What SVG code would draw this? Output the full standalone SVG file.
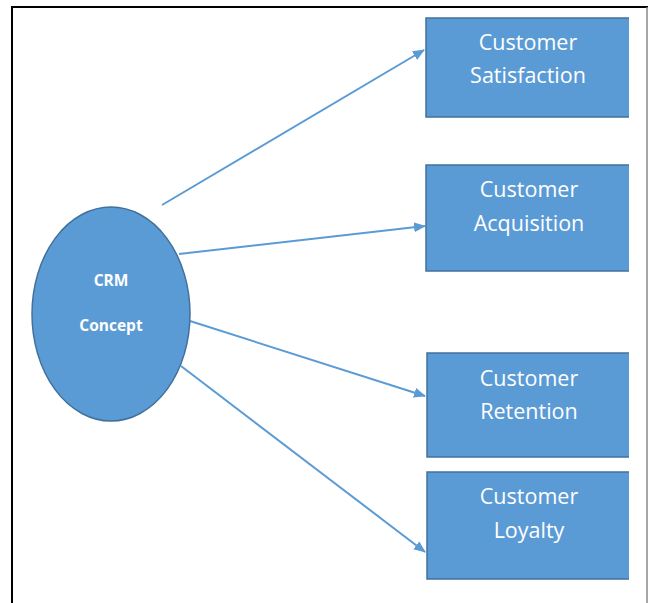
<svg xmlns="http://www.w3.org/2000/svg" width="648" height="603" viewBox="0 0 648 603">
<style>
.box{fill:#5b9bd5;stroke:#41719c;stroke-width:1.5}
.bt{font-family:"Open Sans","Liberation Sans",sans-serif;font-size:21.5px;fill:#ffffff;text-anchor:middle}
.et{font-family:"Open Sans","Liberation Sans",sans-serif;font-size:15.5px;font-weight:bold;fill:#ffffff;text-anchor:middle}
.conn{stroke:#5b9bd5;stroke-width:2;fill:none;marker-end:url(#arr)}
</style>
<defs>
<marker id="arr" markerWidth="12" markerHeight="10" refX="11" refY="5" orient="auto" markerUnits="userSpaceOnUse">
<path d="M0,0 L12,5 L0,10 z" fill="#5b9bd5"/>
</marker>
</defs>
<rect width="648" height="603" fill="#ffffff"/>
<path d="M12,603 V7 H648" fill="none" stroke="#000" stroke-width="2"/>
<line x1="647" y1="7" x2="647" y2="603" stroke="#888" stroke-width="1.5"/>
<g id="connectors">
<line class="conn" x1="162" y1="205" x2="424" y2="50"/>
<line class="conn" x1="179" y1="254" x2="425" y2="226"/>
<line class="conn" x1="190" y1="321" x2="425" y2="396"/>
<line class="conn" x1="181" y1="366" x2="425" y2="552"/>
</g>
<g id="crm">
<ellipse cx="111" cy="314" rx="79" ry="107" fill="#5b9bd5" stroke="#41719c" stroke-width="1.5"/>
<text class="et" x="111" y="286">CRM</text>
<text class="et" x="111" y="331">Concept</text>
</g>
<g id="satisfaction">
<path class="box" d="M629,18 H426 V117 H629"/>
<text class="bt" x="528" y="50">Customer</text>
<text class="bt" x="528" y="83">Satisfaction</text>
</g>
<g id="acquisition">
<path class="box" d="M629,165 H426 V271 H629"/>
<text class="bt" x="529" y="197">Customer</text>
<text class="bt" x="529" y="231">Acquisition</text>
</g>
<g id="retention">
<path class="box" d="M629,353 H427 V457 H629"/>
<text class="bt" x="529" y="386">Customer</text>
<text class="bt" x="529" y="419">Retention</text>
</g>
<g id="loyalty">
<path class="box" d="M629,472 H427 V579 H629"/>
<text class="bt" x="529" y="504">Customer</text>
<text class="bt" x="529" y="538">Loyalty</text>
</g>
</svg>
